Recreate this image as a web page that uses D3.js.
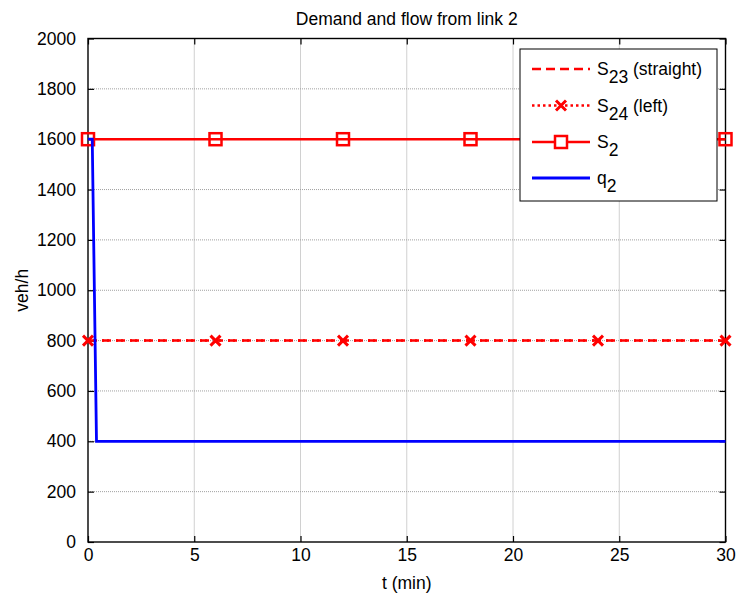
<!DOCTYPE html>
<html>
<head>
<meta charset="utf-8">
<script src="https://cdn.jsdelivr.net/npm/d3@7"></script>
<style>
  html, body { margin: 0; padding: 0; background: #fff; }
  svg { display: block; font-family: "Liberation Sans", Arial, sans-serif; }
</style>
</head>
<body>
<svg id="chart" width="739" height="600"></svg>
<script>
// ---- data ----
const title = "Demand and flow from link 2";
const xLabel = "t (min)";
const yLabel = "veh/h";
const xTicks = [0, 5, 10, 15, 20, 25, 30];
const yTicks = [0, 200, 400, 600, 800, 1000, 1200, 1400, 1600, 1800, 2000];
const markerTimes = [0, 6, 12, 18, 24, 30];
const s23Values = [800, 800, 800, 800, 800, 800];
const s24Values = [800, 800, 800, 800, 800, 800];
const s2Values = [1600, 1600, 1600, 1600, 1600, 1600];
const q2Times = [0, 0.2, 0.4, 30];
const q2Values = [1600, 1600, 400, 400];
const legendNames = [["S", "23", " (straight)"], ["S", "24", " (left)"], ["S", "2", ""], ["q", "2", ""]];

// ---- layout ----
const svg = d3.select("#chart");
const fs = 17.5;
const L = 88, R = 725.5, T = 38.5, B = 542;
const x = d3.scaleLinear().domain([0, 30]).range([L, R]);
const y = d3.scaleLinear().domain([0, 2000]).range([B, T]);

// grid
const grid = svg.append("g");
grid.selectAll(".gx").data(xTicks.slice(1, -1)).join("line")
  .attr("x1", d => x(d)).attr("x2", d => x(d)).attr("y1", T).attr("y2", B)
  .attr("stroke", "#a0a0a0").attr("stroke-width", 1).attr("stroke-dasharray", "1,1");
grid.selectAll(".gy").data(yTicks.slice(1, -1)).join("line")
  .attr("x1", L).attr("x2", R).attr("y1", d => y(d)).attr("y2", d => y(d))
  .attr("stroke", "#a0a0a0").attr("stroke-width", 1).attr("stroke-dasharray", "1,1");

// axes (MATLAB style: inward ticks on all sides)
const tickLen = 6;
const axB = svg.append("g").attr("transform", `translate(0,${B})`)
  .call(d3.axisBottom(x).tickValues(xTicks).tickSize(-tickLen).tickPadding(7).tickFormat(d3.format("d")));
const axT = svg.append("g").attr("transform", `translate(0,${T})`)
  .call(d3.axisTop(x).tickValues(xTicks).tickSize(-tickLen).tickFormat(""));
const axL = svg.append("g").attr("transform", `translate(${L},0)`)
  .call(d3.axisLeft(y).tickValues(yTicks).tickSize(-tickLen).tickPadding(12).tickFormat(d3.format("d")));
const axR = svg.append("g").attr("transform", `translate(${R},0)`)
  .call(d3.axisRight(y).tickValues(yTicks).tickSize(-tickLen).tickFormat(""));
[axB, axT, axL, axR].forEach(a => {
  a.select(".domain").remove();
  a.selectAll(".tick line").attr("stroke", "#000").attr("stroke-width", 1.2);
  a.selectAll(".tick text").attr("fill", "#000").style("font-size", fs + "px")
    .style("font-family", "'Liberation Sans', Arial, sans-serif");
});
axB.selectAll(".tick text").attr("dy", "0.71em");
svg.append("rect").attr("x", L).attr("y", T).attr("width", R - L).attr("height", B - T)
  .attr("fill", "none").attr("stroke", "#000").attr("stroke-width", 1.4);

// series
const line = d3.line().x(d => x(d[0])).y(d => y(d[1]));
const red = "#ff0000", blue = "#0000ff";
const s23 = markerTimes.map((t, i) => [t, s23Values[i]]);
const s24 = markerTimes.map((t, i) => [t, s24Values[i]]);
const s2 = markerTimes.map((t, i) => [t, s2Values[i]]);
const q2 = q2Times.map((t, i) => [t, q2Values[i]]);

svg.append("path").datum(s23).attr("d", line).attr("fill", "none")
  .attr("stroke", red).attr("stroke-width", 2.5).attr("stroke-dasharray", "9,5");
svg.append("path").datum(s24).attr("d", line).attr("fill", "none")
  .attr("stroke", red).attr("stroke-width", 2.5).attr("stroke-dasharray", "2,3,2,7");
function xMark(g, cx, cy, r) {
  g.append("path").attr("d", `M${cx - r},${cy - r}L${cx + r},${cy + r}M${cx - r},${cy + r}L${cx + r},${cy - r}`)
    .attr("stroke", red).attr("stroke-width", 3).attr("fill", "none");
}
const mk = svg.append("g");
s24.forEach(d => xMark(mk, x(d[0]), y(d[1]), 5));
svg.append("path").datum(s2).attr("d", line).attr("fill", "none")
  .attr("stroke", red).attr("stroke-width", 2.5);
svg.append("g").selectAll("rect").data(s2).join("rect")
  .attr("x", d => x(d[0]) - 6).attr("y", d => y(d[1]) - 6).attr("width", 12).attr("height", 12)
  .attr("fill", "none").attr("stroke", red).attr("stroke-width", 2.5);
svg.append("path").datum(q2).attr("d", line).attr("fill", "none")
  .attr("stroke", blue).attr("stroke-width", 2.8);

// labels
svg.append("text").attr("x", (L + R) / 2).attr("y", 25).attr("text-anchor", "middle")
  .style("font-size", fs + "px").text(title);
svg.append("text").attr("x", (L + R) / 2).attr("y", 589).attr("text-anchor", "middle")
  .style("font-size", fs + "px").text(xLabel);
svg.append("text").attr("transform", `translate(28,${(T + B) / 2}) rotate(-90)`).attr("text-anchor", "middle")
  .style("font-size", fs + "px").text(yLabel);

// legend
const lg = svg.append("g");
lg.append("rect").attr("x", 520).attr("y", 49).attr("width", 197).attr("height", 152)
  .attr("fill", "#fff").attr("stroke", "#000").attr("stroke-width", 1);
const rowsY = [69, 105.5, 142, 178];
const lx1 = 532, lx2 = 590, lmx = 561;
// S23
lg.append("line").attr("x1", lx1).attr("x2", lx2).attr("y1", rowsY[0]).attr("y2", rowsY[0])
  .attr("stroke", red).attr("stroke-width", 2.5).attr("stroke-dasharray", "9,5");
// S24
lg.append("line").attr("x1", lx1).attr("x2", lx2).attr("y1", rowsY[1]).attr("y2", rowsY[1])
  .attr("stroke", red).attr("stroke-width", 2.5).attr("stroke-dasharray", "2.5,3");
xMark(lg, lmx, rowsY[1], 5);
// S2
lg.append("line").attr("x1", lx1).attr("x2", lx2).attr("y1", rowsY[2]).attr("y2", rowsY[2])
  .attr("stroke", red).attr("stroke-width", 2.5);
lg.append("rect").attr("x", lmx - 6).attr("y", rowsY[2] - 6).attr("width", 12).attr("height", 12)
  .attr("fill", "#fff").attr("stroke", red).attr("stroke-width", 2.5);
// q2
lg.append("line").attr("x1", lx1).attr("x2", lx2).attr("y1", rowsY[3]).attr("y2", rowsY[3])
  .attr("stroke", blue).attr("stroke-width", 2.8);
legendNames.forEach((n, i) => {
  const t = lg.append("text").attr("x", 597).attr("y", rowsY[i] + 6).style("font-size", fs + "px");
  t.append("tspan").text(n[0]);
  t.append("tspan").attr("dy", 8).text(n[1]);
  if (n[2]) t.append("tspan").attr("dy", -8).text(n[2]);
});
</script>
</body>
</html>
